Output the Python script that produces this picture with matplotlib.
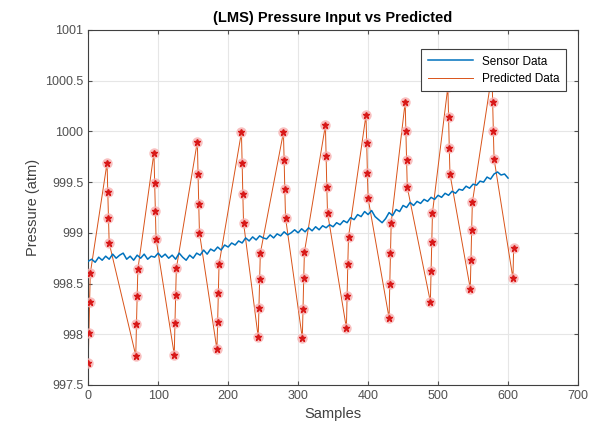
import numpy as np
import matplotlib.pyplot as plt

plt.rcParams['font.family'] = ['Liberation Sans', 'DejaVu Sans']

# sensor trace, one value every 5 samples
sensor_x = np.arange(0, 601, 5)
sensor_y = [
    998.72, 998.74, 998.71, 998.76, 998.73, 998.77, 998.74, 998.79, 998.75, 998.78,
    998.80, 998.74, 998.77, 998.73, 998.78, 998.75, 998.79, 998.74, 998.77, 998.76,
    998.80, 998.76, 998.79, 998.75, 998.78, 998.74, 998.80, 998.76, 998.73, 998.78,
    998.75, 998.80, 998.78, 998.83, 998.79, 998.84, 998.82, 998.86, 998.83, 998.88,
    998.86, 998.90, 998.88, 998.92, 998.90, 998.95, 998.92, 998.96, 998.93, 998.97,
    998.95, 998.94, 998.98, 998.95, 998.99, 998.97, 999.01, 998.98, 999.00, 999.03,
    999.00, 999.04, 999.01, 999.05, 999.02, 999.06, 999.03, 999.07, 999.05, 999.08,
    999.06, 999.10, 999.08, 999.12, 999.10, 999.15, 999.13, 999.18, 999.16, 999.21,
    999.18, 999.22, 999.16, 999.13, 999.10, 999.14, 999.20, 999.17, 999.23, 999.21,
    999.27, 999.25, 999.30, 999.27, 999.31, 999.29, 999.33, 999.31, 999.35, 999.33,
    999.37, 999.35, 999.39, 999.37, 999.41, 999.39, 999.43, 999.42, 999.46, 999.44,
    999.48, 999.47, 999.51, 999.50, 999.55, 999.53, 999.58, 999.60, 999.57, 999.58,
    999.54,
]

# predicted points (clusters of 4, alternating rising / falling)
pred_x = [
    0, 1, 2, 3,
    27, 28, 29, 30,
    68, 69, 70, 71,
    94, 95, 96, 97,
    123, 124, 125, 126,
    156, 157, 158, 159,
    184, 185, 186, 187,
    219, 220, 221, 222,
    243, 244, 245, 246,
    279, 280, 281, 282,
    306, 307, 308, 309,
    339, 340, 341, 342,
    369, 370, 371, 372,
    397, 398, 399, 400,
    430, 431, 432, 433,
    453, 454, 455, 456,
    489, 490, 491, 492,
    514, 515, 516, 517,
    546, 547, 548, 549,
    577, 578, 579, 580,
    607, 608,
]
pred_y = [
    997.72, 998.01, 998.32, 998.60,
    999.69, 999.40, 999.15, 998.90,
    997.79, 998.10, 998.38, 998.64,
    999.79, 999.49, 999.22, 998.94,
    997.80, 998.11, 998.39, 998.65,
    999.90, 999.58, 999.28, 999.00,
    997.85, 998.12, 998.41, 998.69,
    999.99, 999.69, 999.38, 999.10,
    997.97, 998.26, 998.54, 998.80,
    999.99, 999.72, 999.43, 999.15,
    997.96, 998.25, 998.55, 998.81,
    1000.06, 999.76, 999.45, 999.20,
    998.06, 998.38, 998.69, 998.96,
    1000.16, 999.89, 999.59, 999.34,
    998.16, 998.50, 998.80, 999.10,
    1000.29, 1000.00, 999.72, 999.45,
    998.32, 998.62, 998.91, 999.20,
    1000.44, 1000.14, 999.84, 999.58,
    998.45, 998.73, 999.03, 999.30,
    1000.57, 1000.29, 1000.00, 999.73,
    998.55, 998.85,
]

fig = plt.figure(figsize=(6.04, 4.29), dpi=100)
ax = fig.add_axes([0.146, 0.1026, 0.811, 0.8275])

ax.plot(sensor_x, sensor_y, color='#0072BD', lw=1.1, label='Sensor Data', zorder=3)
ax.plot(pred_x, pred_y, color='#D95319', lw=0.7, label='Predicted Data', zorder=2)
ax.plot(pred_x, pred_y, ls='none', marker='o', ms=7.5, mfc='#f7b0b0', mec='none',
        alpha=0.8, zorder=4)
ax.plot(pred_x, pred_y, ls='none', marker='*', ms=5, color='#d81818', zorder=5)

ax.set_xlim(0, 700)
ax.set_ylim(997.5, 1001)
ax.set_xticks(np.arange(0, 701, 100))
ax.set_yticks(np.arange(997.5, 1001.01, 0.5))
ax.set_yticklabels(['997.5', '998', '998.5', '999', '999.5', '1000', '1000.5', '1001'])
ax.grid(True, color='#e6e6e6', lw=0.8)
ax.set_axisbelow(True)
ax.tick_params(direction='in', labelsize=9, colors='#505050', length=3,
               top=True, right=True)
for s in ax.spines.values():
    s.set_color('#404040')
    s.set_linewidth(0.8)

ax.set_title('(LMS) Pressure Input vs Predicted', fontsize=10.5, fontweight='bold', pad=6)
ax.set_xlabel('Samples', fontsize=10.5, color='#404040')
ax.set_ylabel('Pressure (atm)', fontsize=10.5, color='#404040')

leg = ax.legend(loc='upper right', fontsize=8.5, fancybox=False, framealpha=1,
                edgecolor='#404040', handlelength=3.8, borderpad=0.55,
                labelspacing=0.45, bbox_to_anchor=(0.988, 0.963))
leg.get_frame().set_linewidth(0.8)
leg.set_zorder(10)

plt.savefig('out.png', dpi=100)
plt.close()
